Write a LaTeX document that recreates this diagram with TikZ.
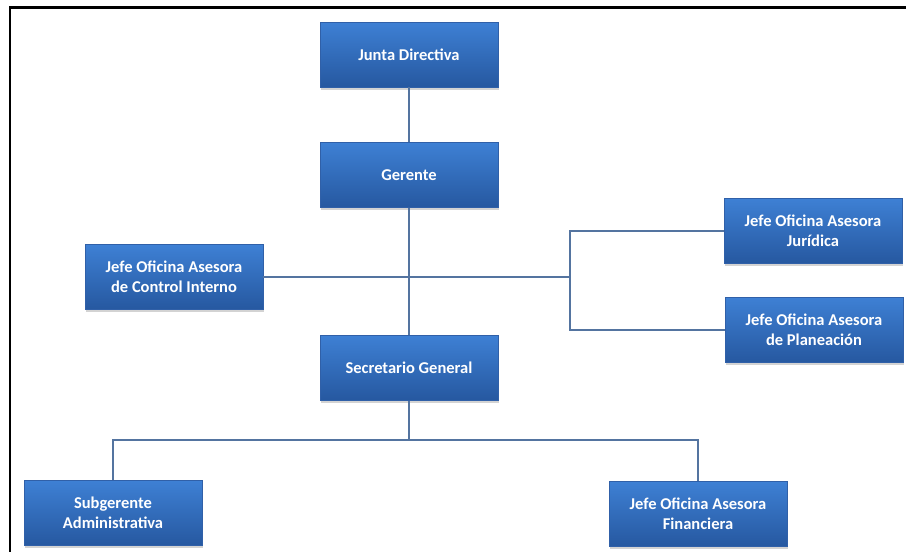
\documentclass[tikz,border=0pt]{standalone}
\usepackage{fontspec}
\setsansfont{Carlito}
\usetikzlibrary{positioning,shadows}
\definecolor{boxtop}{RGB}{62,128,212}
\definecolor{boxbottom}{RGB}{38,88,160}
\definecolor{boxedge}{RGB}{48,96,168}
\definecolor{linkblue}{RGB}{84,116,160}
\begin{document}
\begin{tikzpicture}[
			x=1pt, y=-1pt,
			node distance=55pt,
			box/.style={rectangle, draw=boxedge, line width=0.6pt, top color=boxtop, bottom color=boxbottom, minimum width=178pt, minimum height=65pt, align=center, text=white, font=\sffamily\bfseries\fontsize{16.5}{19.5}\selectfont, drop shadow={shadow xshift=0.5pt, shadow yshift=-2.5pt, opacity=0.35}},
			link/.style={draw=linkblue, line width=1.6pt}
			]
			\useasboundingbox (0,0) rectangle (906,552);
			% Frame
			\draw[line width=2.6pt] (10,552) -- (10,7.5) -- (906,7.5);
			% Nodes
			\node[box] (junta) at (409,54.5) {Junta Directiva};
			\node[box, below=of junta] (gerente) {Gerente};
			\node[box, below=127pt of gerente] (secretario) {Secretario General};
			\node[box] (control) at (174,277) {Jefe Oficina Asesora\\de Control Interno};
			\node[box] (juridica) at (813,231) {Jefe Oficina Asesora\\Jurídica};
			\node[box] (planeacion) at (814,330) {Jefe Oficina Asesora\\de Planeación};
			\node[box] (subgerente) at (113,513) {Subgerente\\Administrativa};
			\node[box] (financiera) at (698,514) {Jefe Oficina Asesora\\Financiera};
			\coordinate (bus) at (570,277);
			\coordinate (split) at (409,440);
			
			% Connectors
			\draw[link, line width=2.4pt] (junta) -- (gerente);
			\draw[link] (gerente) -- (secretario);
			\draw[link] (control) -- (bus);
			\draw[link] (juridica) -| (bus) |- (planeacion);
			\draw[link] (secretario) -- (split);
			\draw[link] (subgerente) |- (split) -| (financiera);
		\end{tikzpicture}
\end{document}
